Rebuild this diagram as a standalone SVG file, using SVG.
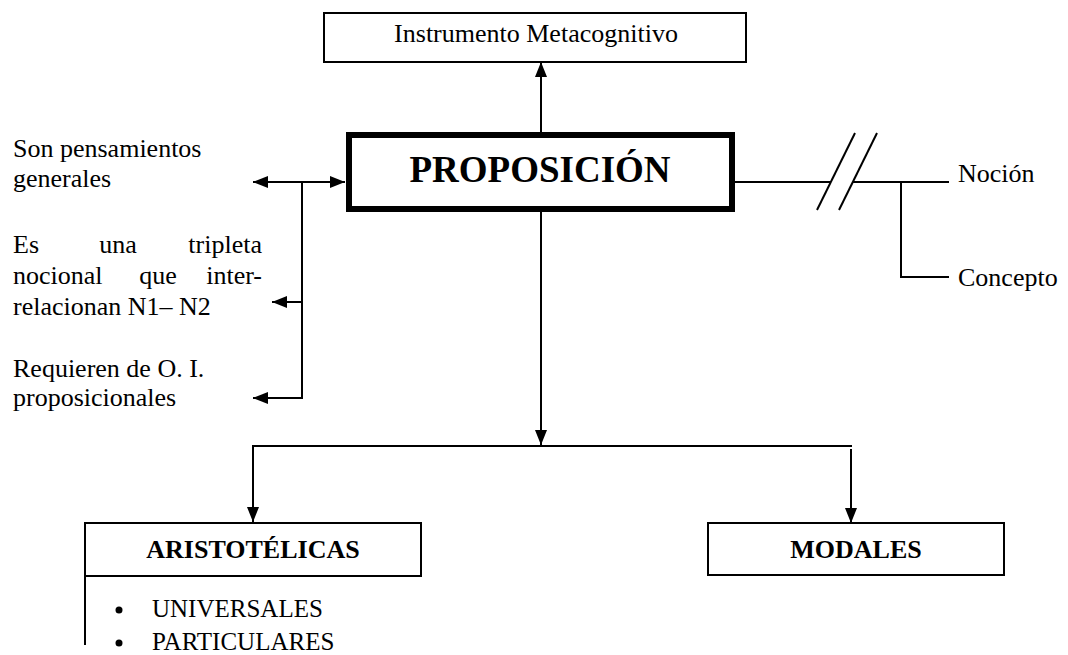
<svg xmlns="http://www.w3.org/2000/svg" width="1068" height="655" viewBox="0 0 1068 655">
<style>
  .t { font-family: "Liberation Serif", "Times New Roman", serif; font-size: 26px; fill: #000; }
  .b { font-weight: bold; }
  .box { fill: #fff; stroke: #000; stroke-width: 2; }
  .ln { fill: none; stroke: #000; stroke-width: 2; }
</style>
<defs>
  <marker id="ah" viewBox="0 0 15 12" refX="15" refY="6" markerWidth="15" markerHeight="12" markerUnits="userSpaceOnUse" orient="auto-start-reverse">
    <path d="M0,0 L15,6 L0,12 z" fill="#000"/>
  </marker>
</defs>
<rect width="1068" height="655" fill="#fff"/>

<g id="connectors">
  <line class="ln" x1="541" y1="132" x2="541" y2="62" marker-end="url(#ah)"/>
  <line class="ln" x1="253" y1="182" x2="345" y2="182" marker-start="url(#ah)" marker-end="url(#ah)"/>
  <polyline class="ln" points="302,182 302,398 253,398" marker-end="url(#ah)"/>
  <line class="ln" x1="302" y1="302" x2="272" y2="302" marker-end="url(#ah)"/>
  <line class="ln" x1="735" y1="182" x2="831" y2="182"/>
  <line class="ln" x1="853" y1="182" x2="949" y2="182"/>
  <line class="ln" x1="817" y1="210" x2="855" y2="133"/>
  <line class="ln" x1="839" y1="210" x2="877" y2="133"/>
  <polyline class="ln" points="901,182 901,277 949,277"/>
  <line class="ln" x1="541" y1="206" x2="541" y2="445" marker-end="url(#ah)"/>
  <polyline class="ln" points="852,446 253,446 253,522" marker-end="url(#ah)"/>
  <line class="ln" x1="851" y1="449" x2="851" y2="523" marker-end="url(#ah)"/>
</g>

<g id="instrumento">
  <rect class="box" x="324" y="13" width="422" height="49"/>
  <text class="t" x="536" y="42" text-anchor="middle">Instrumento Metacognitivo</text>
</g>

<g id="proposicion">
  <rect x="349" y="135" width="383" height="74" fill="#fff" stroke="#000" stroke-width="6"/>
  <text class="t b" x="540" y="182" text-anchor="middle" style="font-size:37px">PROPOSICIÓN</text>
</g>

<g id="son-pensamientos">
  <text class="t" x="13" y="157">Son pensamientos</text>
  <text class="t" x="13" y="187">generales</text>
</g>

<g id="tripleta">
  <text class="t" x="13" y="253">Es</text>
  <text class="t" x="118" y="253" text-anchor="middle">una</text>
  <text class="t" x="262" y="253" text-anchor="end">tripleta</text>
  <text class="t" x="13" y="284">nocional</text>
  <text class="t" x="158" y="284" text-anchor="middle">que</text>
  <text class="t" x="262" y="284" text-anchor="end">inter-</text>
  <text class="t" x="13" y="315">relacionan N1– N2</text>
</g>

<g id="requieren">
  <text class="t" x="13" y="377">Requieren de O. I.</text>
  <text class="t" x="13" y="406">proposicionales</text>
</g>

<g id="nocion">
  <text class="t" x="958" y="182">Noción</text>
</g>

<g id="concepto">
  <text class="t" x="958" y="286">Concepto</text>
</g>

<g id="aristotelicas">
  <rect class="box" x="85" y="523" width="336" height="53"/>
  <polyline class="ln" points="85,576 85,645"/>
  <text class="t b" x="253" y="558" text-anchor="middle">ARISTOTÉLICAS</text>
  <circle cx="119" cy="610" r="3.5" fill="#000"/>
  <text class="t" x="152" y="617" style="font-size:25px">UNIVERSALES</text>
  <circle cx="119" cy="643" r="3.5" fill="#000"/>
  <text class="t" x="152" y="650" style="font-size:25px">PARTICULARES</text>
</g>

<g id="modales">
  <rect class="box" x="708" y="523" width="296" height="52"/>
  <text class="t b" x="856" y="558" text-anchor="middle">MODALES</text>
</g>
</svg>
